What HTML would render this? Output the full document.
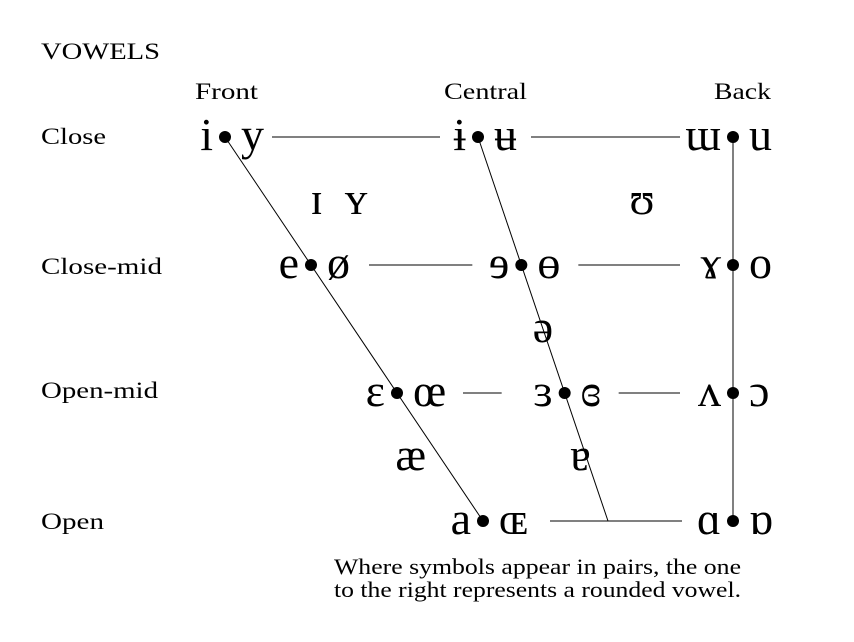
<!DOCTYPE html>
<html><head><meta charset="utf-8">
<style>
html,body{margin:0;padding:0;background:#fff;}
svg{display:block;}
.lbl{font-family:"Liberation Serif",serif;font-size:23px;fill:#000;}
.ipa{font-family:"Liberation Serif","DejaVu Serif",serif;font-size:46px;fill:#000;}
</style></head>
<body>
<svg id="chart" width="854" height="642" viewBox="0 0 854 642" xmlns="http://www.w3.org/2000/svg">
<text class="lbl" x="41" y="59" textLength="119" lengthAdjust="spacingAndGlyphs">VOWELS</text>
<text class="lbl" x="195" y="99" textLength="63" lengthAdjust="spacingAndGlyphs">Front</text>
<text class="lbl" x="444" y="99" textLength="83" lengthAdjust="spacingAndGlyphs">Central</text>
<text class="lbl" x="714" y="99" textLength="57" lengthAdjust="spacingAndGlyphs">Back</text>
<text class="lbl" x="41" y="144" textLength="65" lengthAdjust="spacingAndGlyphs">Close</text>
<text class="lbl" x="41" y="274" textLength="121" lengthAdjust="spacingAndGlyphs">Close-mid</text>
<text class="lbl" x="41" y="398" textLength="117" lengthAdjust="spacingAndGlyphs">Open-mid</text>
<text class="lbl" x="41" y="529" textLength="63" lengthAdjust="spacingAndGlyphs">Open</text>
<text class="lbl" x="334" y="574" textLength="407" lengthAdjust="spacingAndGlyphs" style="font-size:22px">Where symbols appear in pairs, the one</text>
<text class="lbl" x="334" y="597" textLength="407" lengthAdjust="spacingAndGlyphs" style="font-size:22px">to the right represents a rounded vowel.</text>
<g id="lines"></g><g id="marks"></g>
</svg>
<script>
// heights: 0 close .. 3 open ; backness: 0 front, 1 central, 2 back
const heights = [0, 1, 2, 3];
const pairBackness = [0, 1, 2, 0, 1, 2, 0, 1, 2, 0, 2];
const pairHeight = [0, 0, 0, 1, 1, 1, 2, 2, 2, 3, 3];
const unrounded = ["i", "ɨ", "ɯ", "e", "ɘ", "ɤ", "ɛ", "ɜ", "ʌ", "a", "ɑ"];
const rounded = ["y", "ʉ", "u", "ø", "ɵ", "o", "œ", "ɞ", "ɔ", "ɶ", "ɒ"];
const loneSymbols = ["ɪ", "ʏ", "ʊ", "ə", "æ", "ɐ"];
const loneBackness = [0.21, 0.38, 1.61, 1.0, -0.2, 0.96];
const loneHeight = [0.5, 0.5, 0.5, 1.5, 2.5, 2.5];

const NS = "http://www.w3.org/2000/svg";
function yOf(h){ return 137 + h * 128; }
function xOf(b, h){
  const front = 225 + (483 - 225) * h / 3;
  const central = 478 + (608 - 478) * h / 3;
  const back = 733;
  return b <= 1 ? front + (central - front) * b : central + (back - central) * (b - 1);
}
const lines = document.getElementById("lines");
const marks = document.getElementById("marks");
function line(x1,y1,x2,y2,name){
  const l = document.createElementNS(NS,"line");
  l.setAttribute("x1",x1);l.setAttribute("y1",y1);l.setAttribute("x2",x2);l.setAttribute("y2",y2);
  l.setAttribute("stroke","#000");l.setAttribute("stroke-width","1");
  
  
  lines.appendChild(l);
}
function txt(x,y,s,anchor,name){
  const t = document.createElementNS(NS,"text");
  t.setAttribute("class","ipa");t.setAttribute("x",x);t.setAttribute("y",y);
  t.setAttribute("text-anchor",anchor);t.textContent = s;
  
  
  marks.appendChild(t);
  return t;
}
line(xOf(0,0),yOf(0),xOf(0,3),yOf(3),"front-edge");
line(xOf(1,0),yOf(0),xOf(1,3),yOf(3),"central-edge");
line(xOf(2,0),yOf(0),xOf(2,3),yOf(3),"back-edge");
const gapL1 = [47, 58, 66];
const gapL2 = [38, 49, 63];
const gapR1 = [53, 57, 54];
heights.forEach(h=>{
  const y = yOf(h);
  const xs = [xOf(0,h), xOf(1,h), xOf(2,h)];
  if (h < 3) {
    line(xs[0]+gapL1[h], y, xs[1]-gapL2[h], y, "row-line-left-"+h);
    line(xs[1]+gapR1[h], y, xs[2]-53, y, "row-line-right-"+h);
  } else {
    line(xs[0]+67, y, xs[2]-51, y, "row-line-open");
  }
});
pairBackness.forEach((b,i)=>{
  const h = pairHeight[i];
  const x = xOf(b,h), y = yOf(h);
  const c = document.createElementNS(NS,"circle");
  c.setAttribute("cx",x);c.setAttribute("cy",y);c.setAttribute("r","6");c.setAttribute("fill","#000");
  
  
  marks.appendChild(c);
  txt(x-12, y+13, unrounded[i], "end", "unrounded-vowel");
  txt(x+16, y+13, rounded[i], "start", "rounded-vowel");
});
loneSymbols.forEach((s,i)=>{
  const h = loneHeight[i];
  txt(xOf(loneBackness[i],h), yOf(h)+13, s, "middle", "lax-vowel");
});
</script>
</body></html>
